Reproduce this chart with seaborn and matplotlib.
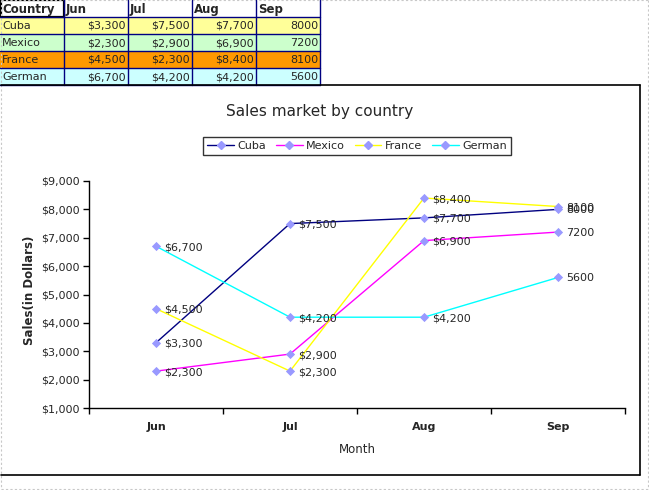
import matplotlib
matplotlib.use("Agg")
import matplotlib.pyplot as plt
import seaborn as sns
import pandas as pd
from matplotlib.lines import Line2D
from matplotlib.patches import Rectangle

# ---- data ----
months = ["Jun", "Jul", "Aug", "Sep"]
countries = ["Cuba", "Mexico", "France", "German"]
cuba = [3300, 7500, 7700, 8000]
mexico = [2300, 2900, 6900, 7200]
france = [4500, 2300, 8400, 8100]
german = [6700, 4200, 4200, 5600]
series = [cuba, mexico, france, german]
# table cell text (as shown in the sheet)
table_rows = [
    ["Cuba", "$3,300", "$7,500", "$7,700", "8000"],
    ["Mexico", "$2,300", "$2,900", "$6,900", "7200"],
    ["France", "$4,500", "$2,300", "$8,400", "8100"],
    ["German", "$6,700", "$4,200", "$4,200", "5600"],
]
header = ["Country", "Jun", "Jul", "Aug", "Sep"]

line_colors = ["#000080", "#FF00FF", "#FFFF00", "#00FFFF"]
row_colors = ["#FFFF99", "#CCFFCC", "#FF9900", "#CCFFFF"]
marker_color = "#9999FF"

sns.set_style("white")
plt.rcParams["font.family"] = ["DejaVu Sans"]

W, H = 649, 490
fig = plt.figure(figsize=(W / 100, H / 100), dpi=100)

def fx(x):
    return x / W

def fy(y):
    return 1 - y / H

# ---- background spreadsheet dashed border ----
for (x0, y0, x1, y1) in [(0.5, 0.5, 647.5, 0.5), (0.5, 0.5, 0.5, 488.5),
                         (647.5, 0.5, 647.5, 488.5), (0.5, 488.5, 647.5, 488.5)]:
    fig.add_artist(Line2D([fx(x0), fx(x1)], [fy(y0), fy(y1)], color="#C8C8C8",
                          lw=0.8, ls=(0, (2, 2))))

# ---- table ----
col_edges = [0, 64, 128, 192, 256, 320]
row_edges = [0, 17, 34, 51, 68, 85]
grid_c = "#000080"
for r in range(5):
    for c in range(5):
        x0, x1 = col_edges[c], col_edges[c + 1]
        y0, y1 = row_edges[r], row_edges[r + 1]
        face = "white" if r == 0 else row_colors[r - 1]
        fig.add_artist(Rectangle((fx(x0), fy(y1)), fx(x1 - x0), (y1 - y0) / H,
                                 facecolor=face, edgecolor="none", lw=0))
        if r == 0:
            txt = header[c]
            fig.text(fx(x0 + 2), fy((y0 + y1) / 2 + 0.5), txt, fontsize=8.5,
                     fontweight="bold", ha="left", va="center")
        else:
            txt = table_rows[r - 1][c]
            if c == 0:
                fig.text(fx(x0 + 2), fy((y0 + y1) / 2 + 0.5), txt, fontsize=8,
                         ha="left", va="center")
            else:
                fig.text(fx(x1 - 2), fy((y0 + y1) / 2 + 0.5), txt, fontsize=8,
                         ha="right", va="center")
# vertical grid lines
for x in col_edges[1:]:
    fig.add_artist(Line2D([fx(x), fx(x)], [fy(0), fy(85)], color=grid_c, lw=1))
# horizontal grid lines (below header)
for y in row_edges[1:]:
    fig.add_artist(Line2D([fx(0), fx(320)], [fy(y), fy(y)], color=grid_c, lw=1))
# selected cell outline
fig.add_artist(Rectangle((fx(0.5), fy(17)), fx(63.5), 16.5 / H, facecolor="none",
                         edgecolor="black", lw=1.6))

# ---- chart box ----
for (x0, y0, x1, y1) in [(0.5, 85.5, 640, 85.5), (640, 85.5, 640, 475),
                         (0.5, 475, 640, 475)]:
    fig.add_artist(Line2D([fx(x0), fx(x1)], [fy(y0), fy(y1)], color="black", lw=1.2))

# ---- plot ----
ax = fig.add_axes([fx(89), fy(408), fx(625 - 89), (408 - 181) / H])
ax.set_facecolor("none")
df = pd.DataFrame({
    "Month": months * 4,
    "Sales": [v for s in series for v in s],
    "Country": [c for c in countries for _ in months],
})
df["x"] = [i for _ in countries for i in range(4)]

sns.lineplot(data=df, x="x", y="Sales", hue="Country", palette=line_colors,
             hue_order=countries, ax=ax, lw=1.0, legend=False)
sns.scatterplot(data=df, x="x", y="Sales", ax=ax, marker="D", s=22,
                color=marker_color, edgecolor=marker_color, linewidth=0, zorder=5,
                legend=False)

for cname, s in zip(countries, series):
    for i, v in enumerate(s):
        if i == 3:
            lab = f"{v}"
        else:
            lab = f"${v:,}"
        ax.annotate(lab, (i, v), xytext=(8, -1), textcoords="offset pixels",
                    fontsize=8, ha="left", va="center", zorder=6)

ax.set_xlim(-0.5, 3.5)
ax.set_ylim(1000, 9000)
ax.set_yticks(range(1000, 9001, 1000))
ax.set_yticklabels([f"${v:,}" for v in range(1000, 9001, 1000)], fontsize=8)
ax.set_xticks([-0.5, 0.5, 1.5, 2.5, 3.5])
ax.set_xticklabels([])
ax.set_xticks(range(4), minor=True)
ax.set_xticklabels(months, minor=True, fontsize=8, fontweight="bold")
ax.tick_params(axis="x", which="major", direction="out", length=4, width=1,
               color="black", bottom=True)
ax.tick_params(axis="x", which="minor", length=0, pad=10)
ax.tick_params(axis="y", direction="out", length=4, width=1, color="black",
               left=True, pad=3)
for sp in ["top", "right"]:
    ax.spines[sp].set_visible(False)
for sp in ["left", "bottom"]:
    ax.spines[sp].set_color("black")
    ax.spines[sp].set_linewidth(1)
ax.grid(False)
ax.set_xlabel("")
ax.set_ylabel("")

fig.text(fx(357), fy(449), "Month", fontsize=8.5, ha="center", va="center")
fig.text(fx(30), fy(290), "Sales(in Dollars)", fontsize=8.5, fontweight="bold",
         rotation=90, ha="center", va="center")
fig.text(fx(320), fy(111), "Sales market by country", fontsize=11,
         ha="center", va="center")

handles = [Line2D([0], [0], color=c, lw=1, marker="D", markersize=4,
                  markerfacecolor=marker_color, markeredgecolor=marker_color)
           for c in line_colors]
leg = fig.legend(handles, countries, loc="center", ncol=4,
                 bbox_to_anchor=(fx(357), fy(146)), bbox_transform=fig.transFigure,
                 fontsize=8, frameon=True, fancybox=False, handlelength=2.4,
                 handletextpad=0.3, columnspacing=0.9, borderpad=0.35)
leg.get_frame().set_edgecolor("black")
leg.get_frame().set_linewidth(1)

fig.savefig("out.png", dpi=100)
